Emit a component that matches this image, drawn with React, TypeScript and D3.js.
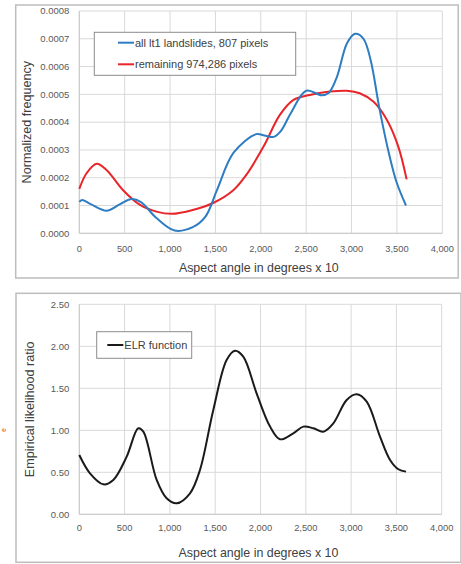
import React from "react";
import * as d3 from "d3";

// ---- data ----
const blueX = [0, 30, 120, 300, 450, 580, 680, 850, 1050, 1250, 1390, 1520, 1700, 1950, 2040, 2140, 2220, 2330, 2500, 2670, 2750, 2840, 2950, 3040, 3130, 3210, 3310, 3420, 3500, 3600];
const blueV = [0.000113, 0.00012, 0.000106, 0.000081, 0.000105, 0.000123, 0.000112, 0.000055, 0.00001, 0.000022, 0.00006, 0.000158, 0.00029, 0.000357, 0.000352, 0.000347, 0.000368, 0.000432, 0.000513, 0.000497, 0.000506, 0.000564, 0.000684, 0.000718, 0.000701, 0.000624, 0.000444, 0.000276, 0.00018, 0.0001];
const redX = [0, 80, 190, 300, 480, 670, 850, 1020, 1250, 1480, 1700, 1840, 2030, 2210, 2360, 2540, 2760, 2950, 3090, 3240, 3390, 3515, 3607];
const redV = [0.00016, 0.000216, 0.00025, 0.000228, 0.000156, 0.000102, 0.000078, 0.00007, 0.000084, 0.00011, 0.000156, 0.00021, 0.000312, 0.000426, 0.00048, 0.000498, 0.00051, 0.000513, 0.000504, 0.000474, 0.000408, 0.000312, 0.000194];
const elrX = [0, 118, 265, 375, 523, 651, 707, 854, 964, 1075, 1222, 1332, 1479, 1626, 1718, 1810, 1957, 2105, 2215, 2362, 2473, 2583, 2694, 2804, 2951, 3061, 3172, 3319, 3430, 3522, 3606];
const elrV = [0.706, 0.488, 0.357, 0.409, 0.687, 1.024, 0.984, 0.409, 0.19, 0.131, 0.25, 0.528, 1.242, 1.837, 1.948, 1.877, 1.44, 1.044, 0.893, 0.964, 1.044, 1.024, 0.984, 1.083, 1.361, 1.429, 1.341, 0.925, 0.647, 0.536, 0.508];

const xTicks = [0, 500, 1000, 1500, 2000, 2500, 3000, 3500, 4000];
const freqTicks = [0, 0.0001, 0.0002, 0.0003, 0.0004, 0.0005, 0.0006, 0.0007, 0.0008];
const elrTicks = [0, 0.5, 1.0, 1.5, 2.0, 2.5];

const blueLabel = "all lt1 landslides, 807 pixels";
const redLabel = "remaining 974,286 pixels";
const elrLabel = "ELR function";
const xTitle = "Aspect angle in degrees x 10";

const FONT = "'Liberation Sans', Arial, sans-serif";
const GRID = "#d9d9d9";
const TICKC = "#595959";
const BLUE = "#2E7DC2";
const RED = "#E8262A";

function Panel(props: any) {
  const { x, y, yTicks, yFmt, series, legend, yTitle, titleY, tickY, yTitleX, legendBox } = props;
  const fmtX = d3.format(",");
  const [x0, x1] = x.range();
  const [y0, y1] = y.range();
  return (
    <g>
      {yTicks.map((t: number) => (
        <line key={"gy" + t} x1={x0} x2={x1} y1={y(t)} y2={y(t)} stroke={GRID} strokeWidth={1} />
      ))}
      {xTicks.map((t) => (
        <line key={"gx" + t} x1={x(t)} x2={x(t)} y1={y0} y2={y1} stroke={GRID} strokeWidth={1} />
      ))}
      <line x1={x0} x2={x0} y1={y0} y2={y1} stroke="#c8c8c8" strokeWidth={1} />
      <line x1={x0} x2={x1} y1={y0} y2={y0} stroke="#c8c8c8" strokeWidth={1} />
      {yTicks.map((t: number) => (
        <text key={"ty" + t} x={x0 - 10} y={y(t)} dy="0.35em" textAnchor="end" fontFamily={FONT} fontSize={9.5} fill={TICKC}>
          {yFmt(t)}
        </text>
      ))}
      {xTicks.map((t) => (
        <text key={"tx" + t} x={x(t)} y={tickY} textAnchor="middle" fontFamily={FONT} fontSize={9.3} fill={TICKC}>
          {fmtX(t)}
        </text>
      ))}
      {series.map((s: any, i: number) => {
        const line = d3
          .line<number>()
          .x((_, j) => x(s.xs[j]))
          .y((v) => y(v))
          .curve(d3.curveCatmullRom.alpha(0.5));
        return <path key={"s" + i} d={line(s.vs) || ""} fill="none" stroke={s.color} strokeWidth={2} />;
      })}
      <rect x={legendBox[0]} y={legendBox[1]} width={legendBox[2]} height={legendBox[3]} fill="#fff" stroke="#8c8c8c" strokeWidth={1} />
      {legend.map((l: any, i: number) => (
        <g key={"l" + i}>
          <line x1={l.x1} x2={l.x2} y1={l.y} y2={l.y} stroke={l.color} strokeWidth={2} />
          <text x={l.x2 + 1} y={l.y} dy="0.35em" fontFamily={FONT} fontSize={11} fill="#404040">
            {l.label}
          </text>
        </g>
      ))}
      <text x={(x0 + x1) / 2 - 2} y={titleY} textAnchor="middle" fontFamily={FONT} fontSize={12.4} fill="#404040">
        {xTitle}
      </text>
      <text
        transform={`translate(${yTitleX},${(y0 + y1) / 2}) rotate(-90)`}
        textAnchor="middle"
        dy="0.35em"
        fontFamily={FONT}
        fontSize={12.6}
        fill="#404040"
      >
        {yTitle}
      </text>
    </g>
  );
}

export default function App() {
  const xTop = d3.scaleLinear().domain([0, 4000]).range([79.3, 442.3]);
  const yTop = d3.scaleLinear().domain([0, 0.0008]).range([233.3, 11]);
  const xBot = d3.scaleLinear().domain([0, 4000]).range([79.3, 441.7]);
  const yBot = d3.scaleLinear().domain([0, 2.5]).range([514.3, 304.3]);

  return (
    <svg width={461} height={564} style={{ position: "absolute", left: 0, top: 0, background: "#fff" }}>
      <rect x={0} y={0} width={461} height={564} fill="#fff" />
      <rect x={15.7} y={5} width={442.5} height={273} fill="#fff" stroke="#bdbdbd" strokeWidth={1.5} />
      <rect x={16} y={293.3} width={445} height={269} fill="#fff" stroke="#bdbdbd" strokeWidth={1.5} />
      <text
        transform="translate(3.2,430) rotate(-90)"
        textAnchor="middle"
        dy="0.35em"
        fontFamily={FONT}
        fontSize={7}
        fontWeight="bold"
        fill="#ED7D31"
      >
        e
      </text>
      <Panel
        x={xTop}
        y={yTop}
        yTicks={freqTicks}
        yFmt={d3.format(".4f")}
        series={[
          { xs: redX, vs: redV, color: RED },
          { xs: blueX, vs: blueV, color: BLUE },
        ]}
        legendBox={[94.3, 32.3, 201.4, 43]}
        legend={[
          { x1: 118, x2: 134, y: 42.7, color: BLUE, label: blueLabel },
          { x1: 118, x2: 134, y: 64.3, color: RED, label: redLabel },
        ]}
        yTitle="Normalized frequency"
        yTitleX={26.7}
        tickY={251.5}
        titleY={272}
      />
      <Panel
        x={xBot}
        y={yBot}
        yTicks={elrTicks}
        yFmt={d3.format(".2f")}
        series={[{ xs: elrX, vs: elrV, color: "#1a1a1a" }]}
        legendBox={[96.7, 331.7, 95, 26.6]}
        legend={[{ x1: 107.3, x2: 123.3, y: 345, color: "#1a1a1a", label: elrLabel }]}
        yTitle="Empirical likelihood ratio"
        yTitleX={29.3}
        tickY={531}
        titleY={557}
      />
    </svg>
  );
}
